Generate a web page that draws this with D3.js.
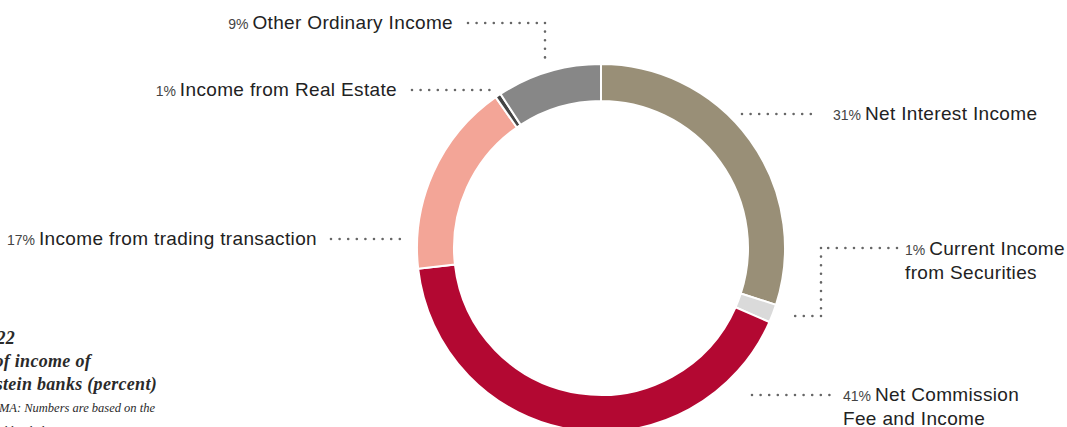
<!DOCTYPE html>
<html>
<head>
<meta charset="utf-8">
<script src="https://cdn.jsdelivr.net/npm/d3@7"></script>
<style>
  html, body { margin: 0; padding: 0; background: #fff; overflow: hidden; }
</style>
</head>
<body>
<div id="chart"></div>
<script>
// slice data
var categories = ["Net Interest Income", "Current Income from Securities", "Net Commission Fee and Income",
                  "Income from trading transaction", "Income from Real Estate", "Other Ordinary Income"];
var shares = [30.0, 1.6, 41.6, 17.1, 0.5, 9.2];
var pctLabels = ["31%", "1%", "41%", "17%", "1%", "9%"];
var colors = ["#998f77", "#dadada", "#b30832", "#f3a597", "#444444", "#878787"];

var titleLines = ["Figure 22", "Composition of income of", "Liechtenstein banks (percent)"];
var noteLines = ["Source: FMA: Numbers are based on the", "individual bank data"];

var svgWidth = 1067;
var svgHeight = 427;

var svg = d3.select("#chart")
  .append("svg")
  .attr("width", svgWidth)
  .attr("height", svgHeight);

// donut geometry
var cx = 601, cy = 248;
var outerR = 184, innerR = 147;

var pie = d3.pie().sort(null).value(d => d);
var arc = d3.arc().innerRadius(innerR).outerRadius(outerR);

var donut = svg.append("g")
  .attr("transform", `translate(${cx}, ${cy})`);

donut.selectAll("path")
  .data(pie(shares))
  .enter()
  .append("path")
  .attr("d", arc)
  .attr("fill", (d, i) => colors[i])
  .attr("stroke", "#fff")
  .attr("stroke-width", 2);

// leader lines (dotted) and label placement
var labelLayout = [
  { lines: [[742, 114, 818, 114]], x: 833, y: 120, anchor: "start", name: ["Net Interest Income"] },
  { lines: [[897, 248, 821, 248], [821, 248, 821, 316], [821, 316, 793, 316]], x: 905, y: 255, anchor: "start", name: ["Current Income", "from Securities"] },
  { lines: [[752, 395, 830, 395]], x: 843, y: 401, anchor: "start", name: ["Net Commission", "Fee and Income"] },
  { lines: [[331, 239, 408, 239]], x: 317, y: 245, anchor: "end", name: ["Income from trading transaction"] },
  { lines: [[412, 90, 490, 90]], x: 397, y: 96, anchor: "end", name: ["Income from Real Estate"] },
  { lines: [[468, 23, 545, 23], [545, 23, 545, 66]], x: 453, y: 29, anchor: "end", name: ["Other Ordinary Income"] }
];

var leaders = svg.append("g");
labelLayout.forEach(function(l) {
  l.lines.forEach(function(s) {
    leaders.append("line")
      .attr("x1", s[0]).attr("y1", s[1])
      .attr("x2", s[2]).attr("y2", s[3])
      .attr("stroke", "#666")
      .attr("stroke-width", 2.6)
      .attr("stroke-linecap", "round")
      .attr("stroke-dasharray", "0 8.6");
  });
});

var labels = svg.append("g")
  .attr("font-family", "'Liberation Sans', Arial, sans-serif")
  .attr("fill", "#222");

labelLayout.forEach(function(l, i) {
  var t = labels.append("text")
    .attr("x", l.x)
    .attr("y", l.y)
    .attr("text-anchor", l.anchor);
  t.append("tspan")
    .attr("font-size", "14px")
    .attr("fill", "#444")
    .text(pctLabels[i] + " ");
  t.append("tspan")
    .attr("font-size", "19px")
    .attr("letter-spacing", "0.35px")
    .text(l.name[0]);
  if (l.name.length > 1) {
    labels.append("text")
      .attr("x", l.x)
      .attr("y", l.y + 24)
      .attr("font-size", "19px")
      .attr("letter-spacing", "0.35px")
      .text(l.name[1]);
  }
});

// title block at bottom left (cut by the frame)
var title = svg.append("g")
  .attr("font-family", "'Liberation Serif', 'DejaVu Serif', serif")
  .attr("font-style", "italic")
  .attr("fill", "#2a2a2a")
  .attr("text-anchor", "end");

var titleX = [15, 91, 157];
var titleY = [344, 367, 390];
titleLines.forEach(function(s, i) {
  title.append("text")
    .attr("x", titleX[i])
    .attr("y", titleY[i])
    .attr("font-size", "18px")
    .attr("font-weight", "bold")
    .attr("letter-spacing", "0.3px")
    .text(s);
});
noteLines.forEach(function(s, i) {
  title.append("text")
    .attr("x", i == 0 ? 155 : 60)
    .attr("y", 412 + i * 23)
    .attr("font-size", "12.5px")
    .text(s);
});
</script>
</body>
</html>
